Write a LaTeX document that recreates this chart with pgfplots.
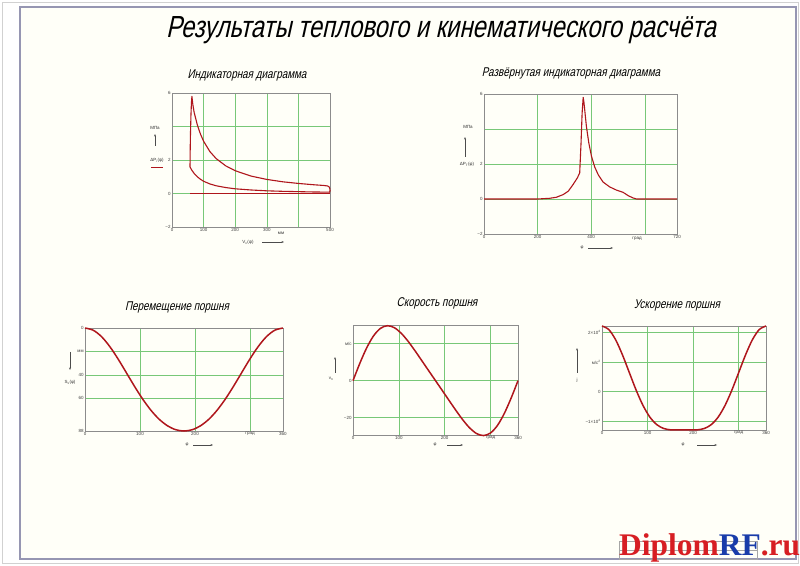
\documentclass[border=0pt]{standalone}
\usepackage{fontspec}
\setmainfont{Liberation Sans}
\newfontfamily\gost[FakeStretch=0.78,FakeSlant=0.22]{Liberation Sans}
\newfontfamily\wm{Liberation Serif}
\usepackage{pgfplots}
\pgfplotsset{compat=1.18}
\usetikzlibrary{arrows.meta}
\definecolor{frame}{RGB}{150,150,178}
\definecolor{gridg}{RGB}{120,200,120}
\definecolor{curve}{RGB}{175,22,28}
\definecolor{axgray}{RGB}{140,140,140}
\definecolor{wmred}{RGB}{215,30,35}
\definecolor{wmblue}{RGB}{25,60,170}
\definecolor{paper}{RGB}{255,255,248}
\pgfplotsset{mc/.style={scale only axis, anchor=south west, clip=false,
  axis line style={axgray,line width=0.6pt}, grid=major,
  major grid style={gridg,line width=0.5pt}, major tick length=0pt,
  tick style={draw=none},
  ticklabel style={font=\fontsize{4.5}{5}\selectfont, text=black!75, inner sep=1.2pt}}}
\tikzset{lab/.style={font=\fontsize{4.5}{5}\selectfont, text=black!80, inner sep=0.5pt},
  sub/.style={font=\gost\fontsize{12.7}{14}\selectfont},
  arr/.style={-{Stealth[length=2.6pt,width=2pt]}, black!70, line width=0.45pt}}
\begin{document}
\begin{tikzpicture}[x=1pt,y=1pt]
\useasboundingbox (0,0) rectangle (800,565);
\fill[white] (0,0) rectangle (800,565);
\draw[black!18, line width=0.6pt] (2,2) rectangle (798,563);
\fill[paper] (20,6) rectangle (796,558);
\draw[frame, line width=1.2pt] (20,6) rectangle (796,558);
\node[font=\gost\fontsize{30.5}{32}\selectfont] at (441,535) {Результаты теплового и кинематического расчёта};
\node[sub] at (247,490) {Индикаторная диаграмма};
\node[sub] at (571,492) {Развёрнутая индикаторная диаграмма};
\node[sub] at (177,258) {Перемещение поршня};
\node[sub] at (437,262) {Скорость поршня};
\node[sub] at (677,260) {Ускорение поршня};
% ---- plot 1
\begin{axis}[mc, at={(172pt,338pt)}, width=158pt, height=134pt,
  xmin=0, xmax=500, ymin=-2, ymax=6,
  xtick={0,100,200,300,400,500}, xticklabels={0,100,200,300,,500},
  ytick={-2,0,2,4,6}, yticklabels={−2,0,2,,6}]
\addplot[curve, line width=1.4pt] coordinates {(57,0) (500,0)};
\addplot[curve, line width=1.1pt, line join=round] coordinates {
(500,0.08) (450,0.09) (400,0.11) (350,0.13) (300,0.16) (250,0.21) (200,0.28) (170,0.355)
(140,0.46) (120,0.57) (100,0.73) (90,0.85) (80,1.0) (70,1.2) (62,1.41) (57,1.59)
(57.5,2.5) (58.5,3.6) (60,4.7) (61.5,5.4) (63,5.8) (66,5.3) (70,4.85) (80,4.1) (90,3.55)
(100,3.12) (120,2.5) (140,2.08) (170,1.65) (200,1.36) (250,1.04) (300,0.84) (350,0.70)
(400,0.60) (450,0.52) (480,0.48) (492,0.45) (497,0.40) (499.5,0.3) (500,0.15) (498,0.05)};
\end{axis}
\node[lab] at (155,437) {МПа};
\draw[arr] (155,419) -- (155,431);
\node[lab] at (157,405) {ΔP\textsubscript{i}(ψ)};
\draw[curve, line width=0.9pt] (151,398) -- (163,398);
\node[lab] at (248,323) {V\textsubscript{x}(ψ)};
\draw[arr] (262,323) -- (284,323);
\node[lab] at (281,332) {мм};
% ---- plot 2
\begin{axis}[mc, at={(484pt,331pt)}, width=193pt, height=140pt,
  xmin=0, xmax=720, ymin=-2, ymax=6,
  xtick={0,200,400,600,720}, xticklabels={0,200,400,,720},
  ytick={-2,0,2,4,6}, yticklabels={−2,0,2,,6}]
\addplot[curve, line width=1.1pt, line join=round] coordinates {
(0,0) (200,0) (245,0.04) (270,0.1) (295,0.25) (314,0.44) (332,0.82) (348,1.2) (357,1.49)
(362,3.2) (366,4.9) (370,5.81) (373,5.5) (382,4.15) (391,3.2) (401,2.44) (413,1.83)
(426,1.39) (444,0.97) (469,0.69) (494,0.51) (519,0.38) (538,0.19) (556,0.06) (569,0) (720,0)};
\end{axis}
\node[lab] at (468,438) {МПа};
\draw[arr] (465,408) -- (465,428);
\node[lab] at (467,401) {ΔP\textsubscript{Γ}(φ)};
\node[lab] at (582,317) {φ};
\draw[arr] (588,317) -- (613,317);
\node[lab] at (637,326) {град};
% ---- plot 3
\begin{axis}[mc, at={(85pt,134pt)}, width=198pt, height=103pt,
  xmin=0, xmax=360, ymin=0, ymax=88, y dir=reverse,
  xtick={0,100,200,300,360}, xticklabels={0,100,200,град,360},
  ytick={0,20,40,60,88}, yticklabels={0,мм,40,60,88}]
\addplot[curve, line width=1.5pt, smooth] coordinates {
(0,0) (15,1.89) (30,7.35) (45,15.80) (60,26.37) (75,38.05) (90,49.83) (105,60.83)
(120,70.37) (135,78.03) (150,83.56) (165,86.89) (180,88) (195,86.89) (210,83.56)
(225,78.03) (240,70.37) (255,60.83) (270,49.83) (285,38.05) (300,26.37) (315,15.80)
(330,7.35) (345,1.89) (360,0)};
\end{axis}
\draw[arr] (70,213) -- (70,195);
\node[lab] at (70,183) {S\textsubscript{x}(φ)};
\node[lab] at (187,120) {φ};
\draw[arr] (193,120) -- (213,120);
% ---- plot 4
\begin{axis}[mc, at={(353pt,130pt)}, width=165pt, height=110pt,
  xmin=0, xmax=360, ymin=-29.4, ymax=30.1,
  xtick={0,100,200,300,360}, xticklabels={0,100,200,град,360},
  ytick={-20,0,20}, yticklabels={−20,0,м/с}]
\addplot[curve, line width=1.5pt, smooth] coordinates {
(0,0) (15,9.43) (30,17.81) (45,24.29) (60,28.30) (75,29.70) (90,28.67) (105,25.69)
(120,21.35) (135,16.26) (150,10.86) (165,5.41) (180,0) (195,-5.41) (210,-10.86)
(225,-16.26) (240,-21.35) (255,-25.69) (270,-28.67) (285,-29.70) (300,-28.30)
(315,-24.29) (330,-17.81) (345,-9.43) (360,0)};
\end{axis}
\draw[arr] (335,192) -- (335,208);
\node[lab] at (331,186) {v\textsubscript{п}};
\node[lab] at (435,120) {φ};
\draw[arr] (447,120) -- (463,120);
% ---- plot 5
\begin{axis}[mc, at={(602pt,135pt)}, width=164pt, height=104pt,
  xmin=0, xmax=360, ymin=-1.294, ymax=2.22,
  xtick={0,100,200,300,360}, xticklabels={0,100,200,град,360},
  ytick={-1,0,1,2}, yticklabels={−1×10\textsuperscript{4},0,м/с\textsuperscript{2},2×10\textsuperscript{4}}]
\addplot[curve, line width=1.5pt, smooth] coordinates {
(0,2.220) (15,2.098) (30,1.752) (45,1.241) (60,0.645) (75,0.051) (90,-0.465) (105,-0.857)
(120,-1.110) (135,-1.241) (150,-1.287) (165,-1.292) (180,-1.290) (195,-1.292) (210,-1.287)
(225,-1.241) (240,-1.110) (255,-0.857) (270,-0.465) (285,0.051) (300,0.645) (315,1.241)
(330,1.752) (345,2.098) (360,2.220)};
\end{axis}
\draw[arr] (577,192) -- (577,217);
\node[lab] at (577,185) {j};
\node[lab] at (683,120) {φ};
\draw[arr] (697,120) -- (717,120);
% ---- title block and watermark
\draw[black!35, line width=0.4pt] (619,6) rectangle (757,24);
\draw[black!35, line width=0.4pt] (619,15) -- (757,15);
\node[anchor=base west, inner sep=0pt] at (619,10) {\resizebox{181pt}{!}{\wm\bfseries\fontsize{36}{36}\selectfont\color{wmred}Diplom\color{wmblue}RF\color{wmred}.ru}};
\end{tikzpicture}
\end{document}
